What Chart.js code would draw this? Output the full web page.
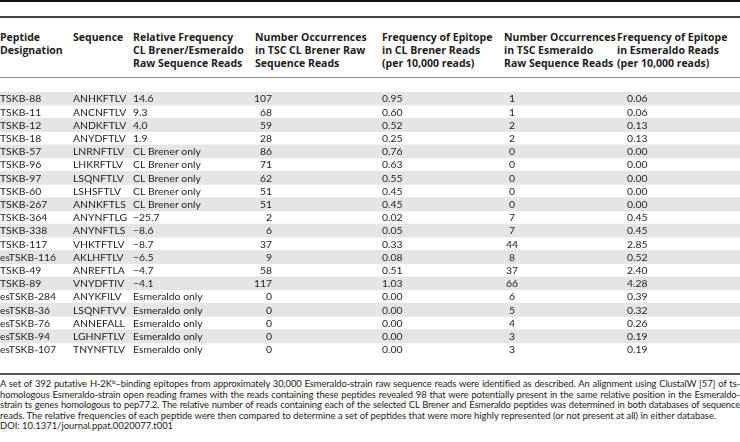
<!DOCTYPE html>
<html><head><meta charset="utf-8">
<script src="https://cdn.jsdelivr.net/npm/chart.js@4.4.1/dist/chart.umd.min.js"></script>
<style>
html,body{margin:0;padding:0;background:#fff;}
#wrap{position:relative;width:740px;height:442px;overflow:hidden;font-family:Lato,"Open Sans",sans-serif;color:#1e1b1c;}
.rule{position:absolute;left:0;width:740px;}
.hdr{position:absolute;top:30.5px;font-family:"Open Sans",sans-serif;font-weight:bold;font-size:10.5px;line-height:13px;white-space:nowrap;}
#cv{position:absolute;left:0;top:92px;}
#cap{position:absolute;left:0;top:379px;width:740px;font-size:9.5px;line-height:10.5px;}
#cap div{white-space:nowrap;}
sup{font-size:6.5px;vertical-align:3px;line-height:0;}
</style></head>
<body><div id="wrap">
<div class="rule" style="top:0;height:2px;background:#111"></div>
<div class="rule" style="top:16px;height:1.5px;background:#444"></div>
<div class="rule" style="top:77px;height:1px;background:#888"></div>
<div id="hdrs"></div>
<canvas id="cv" width="740" height="264"></canvas>
<div class="rule" style="top:373px;height:2px;background:#555"></div>
<div id="cap">
<div class="j">A set of 392 putative H-2K<sup>b</sup>–binding epitopes from approximately 30,000 Esmeraldo-strain raw sequence reads were identified as described. An alignment using ClustalW [57] of ts-</div>
<div class="j">homologous Esmeraldo-strain open reading frames with the reads containing these peptides revealed 98 that were potentially present in the same relative position in the Esmeraldo-</div>
<div class="j">strain ts genes homologous to pep77.2. The relative number of reads containing each of the selected CL Brener and Esmeraldo peptides was determined in both databases of sequence</div>
<div class="n">reads. The relative frequencies of each peptide were then compared to determine a set of peptides that were more highly represented (or not present at all) in either database.</div>
<div>DOI: 10.1371/journal.ppat.0020077.t001</div>
</div>
</div>
<script>
// ---- data ----
const designations = ['TSKB-88','TSKB-11','TSKB-12','TSKB-18','TSKB-57','TSKB-96','TSKB-97','TSKB-60','TSKB-267','TSKB-364','TSKB-338','TSKB-117','esTSKB-116','TSKB-49','TSKB-89','esTSKB-284','esTSKB-36','esTSKB-76','esTSKB-94','esTSKB-107'];
const sequences = ['ANHKFTLV','ANCNFTLV','ANDKFTLV','ANYDFTLV','LNRNFTLV','LHKRFTLV','LSQNFTLV','LSHSFTLV','ANNKFTLS','ANYNFTLG','ANYNFTLS','VHKTFTLV','AKLHFTLV','ANREFTLA','VNYDFTIV','ANYKFILV','LSQNFTVV','ANNEFALL','LGHNFTLV','TNYNFTLV'];
const relativeFrequency = [14.6, 9.3, 4.0, 1.9, 'CL Brener only','CL Brener only','CL Brener only','CL Brener only','CL Brener only', -25.7, -8.6, -8.7, -6.5, -4.7, -4.1, 'Esmeraldo only','Esmeraldo only','Esmeraldo only','Esmeraldo only','Esmeraldo only'];
const clBrenerOccurrences = [107,68,59,28,86,71,62,51,51,2,6,37,9,58,117,0,0,0,0,0];
const clBrenerFrequency = [0.95,0.60,0.52,0.25,0.76,0.63,0.55,0.45,0.45,0.02,0.05,0.33,0.08,0.51,1.03,0,0,0,0,0];
const esmeraldoOccurrences = [1,1,2,2,0,0,0,0,0,7,7,44,8,37,66,6,5,4,3,3];
const esmeraldoFrequency = [0.06,0.06,0.13,0.13,0,0,0,0,0,0.45,0.45,2.85,0.52,2.40,4.28,0.39,0.32,0.26,0.19,0.19];
const headers = [
  ['Peptide','Designation'],
  ['Sequence'],
  ['Relative Frequency','CL Brener/Esmeraldo','Raw Sequence Reads'],
  ['Number Occurrences','in TSC CL Brener Raw','Sequence Reads'],
  ['Frequency of Epitope','in CL Brener Reads','(per 10,000 reads)'],
  ['Number Occurrences','in TSC Esmeraldo','Raw Sequence Reads'],
  ['Frequency of Epitope','in Esmeraldo Reads','(per 10,000 reads)']
];

// ---- layout (positions / styles) ----
const headerX = [0,73,133,255,382,504,617];
const cellLayout = [
  {x:0, align:'left'}, {x:73, align:'left'}, {x:133, align:'left'},
  {x:272, align:'right'}, {x:382, align:'left'}, {x:512, align:'center'}, {x:627, align:'left'}
];
const fmtRel = v => typeof v === 'number' ? (v < 0 ? '\u2212' : '') + Math.abs(v).toFixed(1) : v;
const columns = [
  designations, sequences, relativeFrequency.map(fmtRel),
  clBrenerOccurrences.map(String), clBrenerFrequency.map(v => v.toFixed(2)),
  esmeraldoOccurrences.map(String), esmeraldoFrequency.map(v => v.toFixed(2))
];

// headers
const hd = document.getElementById('hdrs');
headers.forEach((lines, i) => {
  const d = document.createElement('div');
  d.className = 'hdr';
  d.style.left = headerX[i] + 'px';
  d.innerHTML = lines.join('<br>');
  hd.appendChild(d);
});

function natWidth(el) {
  el.style.display = 'inline-block';
  const w = el.getBoundingClientRect().width;
  el.style.display = 'block';
  return w;
}
function fitCaption() {
  // last (unjustified) line should end near x=717
  const n = document.querySelector('#cap .n');
  const cap = document.getElementById('cap');
  const w4 = natWidth(n);
  const fs = 9.5 * 717 / w4;
  cap.style.fontSize = fs + 'px';
  document.querySelectorAll('#cap .j').forEach(el => {
    el.style.letterSpacing = '0px';
    el.style.wordSpacing = '0px';
    const spaces = (el.textContent.match(/ /g) || []).length;
    const chars = el.textContent.length;
    let w = natWidth(el);
    const target = 740 - spaces * 0.6;
    if (w > target) {
      el.style.letterSpacing = ((target - w) / chars) + 'px';
      w = natWidth(el);
    }
    el.style.wordSpacing = ((740 - w) / spaces) + 'px';
  });
}

const cellText = {
  id: 'cellText',
  afterDatasetsDraw(chart) {
    const {ctx, scales} = chart;
    ctx.save();
    ctx.font = '10.4px Lato';
    ctx.fillStyle = '#1e1b1c';
    ctx.textBaseline = 'middle';
    columns.forEach((col, c) => {
      const L = cellLayout[c];
      ctx.textAlign = L.align;
      col.forEach((txt, r) => {
        ctx.fillText(txt, scales.x.getPixelForValue(L.x), scales.y.getPixelForValue(r) + 0.5);
      });
    });
    ctx.restore();
  }
};

function draw() {
  fitCaption();
  new Chart(document.getElementById('cv'), {
    type: 'bar',
    data: {
      labels: designations,
      datasets: [{
        data: designations.map((_, i) => i % 2 === 0 ? [0, 740] : null),
        backgroundColor: '#e5e5e5',
        borderWidth: 0,
        barPercentage: 1,
        categoryPercentage: 1
      }]
    },
    options: {
      indexAxis: 'y',
      responsive: false,
      animation: false,
      layout: {padding: 0},
      plugins: {legend: {display: false}, tooltip: {enabled: false}},
      scales: {
        x: {type: 'linear', min: 0, max: 740, display: false},
        y: {type: 'category', display: false, offset: true}
      }
    },
    plugins: [cellText]
  });
}
Promise.all([document.fonts.load('10.4px Lato'), document.fonts.load('bold 11px "Open Sans"')]).then(draw, draw);
</script>
</body></html>
